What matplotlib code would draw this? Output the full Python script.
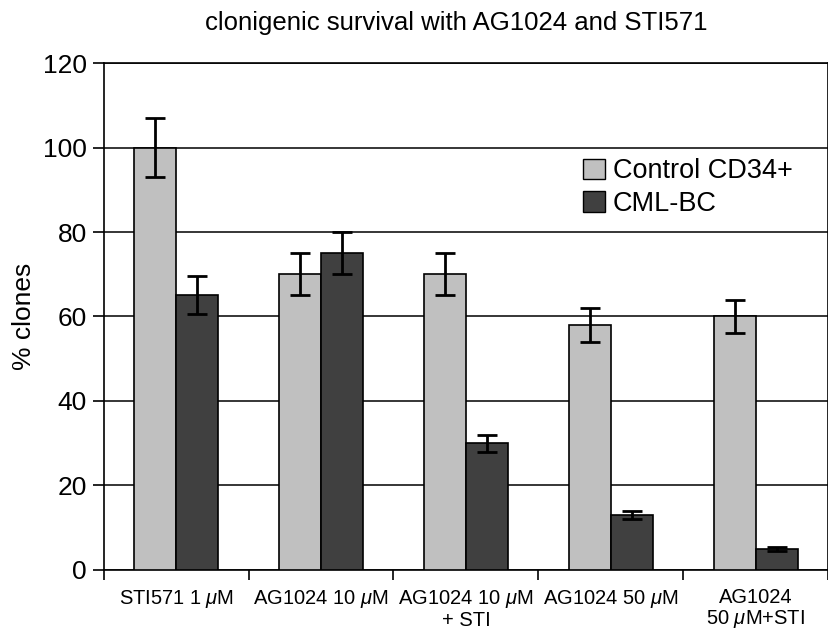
import numpy as np
import matplotlib
matplotlib.use("Agg")
import matplotlib.pyplot as plt
from matplotlib.patches import Patch

plt.rcParams["font.family"] = ["Liberation Sans", "DejaVu Sans"]
plt.rcParams["mathtext.fontset"] = "custom"
plt.rcParams["mathtext.it"] = "Liberation Sans:italic"
plt.rcParams["mathtext.rm"] = "Liberation Sans"

# datos
categorias = ["STI571 1 $\\mu$M", "AG1024 10 $\\mu$M", "AG1024 10 $\\mu$M\n+ STI",
              "AG1024 50 $\\mu$M", "AG1024\n50 $\\mu$M+STI"]
control = [100, 70, 70, 58, 60]
control_err = [7, 5, 5, 4, 4]
cml = [65, 75, 30, 13, 5]
cml_err = [4.5, 5, 2, 1, 0.5]

fig = plt.figure(figsize=(8.29, 6.38), dpi=100)
ax = fig.add_axes([0.125, 0.107, 0.874, 0.794])

x = np.arange(len(categorias))
w = 0.29
ekw = dict(ecolor="black", elinewidth=2.0, capsize=7, capthick=2.0)
ax.bar(x - w / 2, control, w, yerr=control_err, color="#c0c0c0",
       edgecolor="black", linewidth=1.2, error_kw=ekw, zorder=3,
       label="Control CD34+")
ax.bar(x + w / 2, cml, w, yerr=cml_err, color="#404040",
       edgecolor="black", linewidth=1.2, error_kw=ekw, zorder=3,
       label="CML-BC")

ax.set_xlim(-0.5, len(categorias) - 0.5)
ax.set_ylim(0, 120)
ax.set_yticks(np.arange(0, 121, 20))
ax.yaxis.grid(True, color="black", linewidth=1.1, zorder=0)
ax.set_axisbelow(True)

ax.set_xticks(x)
ax.set_xticklabels(categorias, fontsize=14.5, linespacing=1.1)
ax.set_xticks(np.arange(-0.5, len(categorias)), minor=True)
ax.tick_params(axis="x", which="major", length=0, pad=13)
ax.tick_params(axis="x", which="minor", length=7, width=1.2, direction="out")
ax.tick_params(axis="y", labelsize=19, length=8, width=1.2, pad=4)

for s in ax.spines.values():
    s.set_linewidth(1.2)

ax.set_ylabel("% clones", fontsize=19, labelpad=5)
ax.set_title("clonigenic survival with AG1024 and STI571", fontsize=18.5, pad=24,
             x=0.487)

handles = [Patch(facecolor="#c0c0c0", edgecolor="black", label="Control CD34+"),
           Patch(facecolor="#404040", edgecolor="black", label="CML-BC")]
ax.legend(handles=handles, loc="upper right", bbox_to_anchor=(0.985, 0.86),
          frameon=False, fontsize=19.5, handlelength=0.8, handleheight=0.8,
          handletextpad=0.3, labelspacing=0.25)

fig.savefig("out.png", dpi=100, facecolor="white")
